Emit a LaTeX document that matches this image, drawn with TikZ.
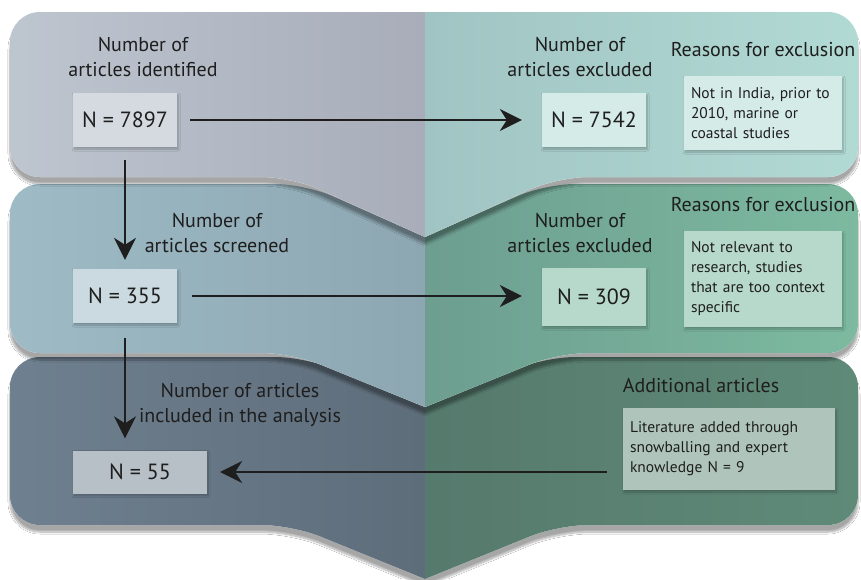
\documentclass[tikz,border=0pt]{standalone}
\usepackage{fontspec}
\setmainfont{PT Sans}
\usetikzlibrary{calc,positioning,arrows.meta,shadows.blur}

\definecolor{ink}{HTML}{1E1E1E}
\definecolor{oneL}{HTML}{BEC6D0}
\definecolor{oneLd}{HTML}{A8ADB9}
\definecolor{oneR}{HTML}{B2DAD4}
\definecolor{oneRd}{HTML}{A0C4C3}
\definecolor{twoL}{HTML}{9EBBC6}
\definecolor{twoLd}{HTML}{8DA7B2}
\definecolor{twoR}{HTML}{7DBAA0}
\definecolor{twoRd}{HTML}{6D9E90}
\definecolor{threeL}{HTML}{6F8090}
\definecolor{threeLd}{HTML}{5E6D7A}
\definecolor{threeR}{HTML}{5F8A78}
\definecolor{threeRd}{HTML}{567A6D}

% outline of one band: top y, top tip y, bottom y, bottom tip y
\newcommand{\bandpath}[4]
	{
	(425,#2) [rounded corners=30pt] -- (305,#1) -- (10,#1) -- (10,#3) -- (292,#3) [sharp corners]
	-- (425,#4) [rounded corners=30pt] -- (558,#3) -- (858,#3) -- (858,#1) -- (545,#1) [sharp corners] -- cycle
	}
\newcommand{\drawband}[6]
	{
	\fill[white,blur shadow={shadow xshift=0pt,shadow yshift=-7pt,shadow blur steps=10,shadow opacity=35}] \bandpath{#1}{#2}{#3}{#4};
	\begin{scope}
	\clip \bandpath{#1}{#2}{#3}{#4};
	\shade[#5] (0,0) rectangle (425,600);
	\shade[#6] (425,0) rectangle (861,600);
	\end{scope}
	}

\tikzset{
	numbox/.style={fill=#1, text=ink, minimum width=104pt, minimum height=54pt, inner sep=0pt,
		font=\fontsize{22}{26}\selectfont,
		blur shadow={shadow xshift=1pt,shadow yshift=-2pt,shadow blur steps=6,shadow opacity=25}},
	reasonbox/.style={fill=#1, text=ink, align=left, inner sep=7pt,
		font=\fontsize{15.5}{20}\selectfont,
		blur shadow={shadow xshift=1pt,shadow yshift=-2pt,shadow blur steps=6,shadow opacity=25}},
	heading/.style={text=ink, align=center, font=\fontsize{20}{25}\selectfont},
	flow/.style={draw=ink, line width=1.3pt, -{Stealth[length=22pt,width=22pt,inset=7pt]}},
}

\begin{document}
\begin{tikzpicture}[x=1pt,y=-1pt]

\useasboundingbox (0,0) rectangle (861,579);
\fill[white] (0,0) rectangle (861,579);

% bands, lowest first
\drawband{357}{407}{525}{579}{left color=threeL,middle color=threeL,right color=threeLd}{left color=threeRd,middle color=threeR,right color=threeR}
\drawband{184}{237}{353}{407}{left color=twoL,middle color=twoL,right color=twoLd}{left color=twoRd,middle color=twoR,right color=twoR}
\drawband{12}{12}{177}{237}{left color=oneL,middle color=oneL,right color=oneLd}{left color=oneRd,middle color=oneR,right color=oneR}

% headings
\node[heading] (hIdent) at (143,57) {Number of\\articles identified};
\node[heading] (hExclA) at (580,57) {Number of\\articles excluded};
\node[heading] (hWhyA) at (763,50) {Reasons for exclusion};
\node[heading] (hScreen) at (217,233) {Number of\\articles screened};
\node[heading] (hExclB) at (580,233) {Number of\\articles excluded};
\node[heading] (hWhyB) at (763,205) {Reasons for exclusion};
\node[heading] (hIncl) at (240,405) {Number of articles\\included in the analysis};
\node[heading] (hAdd) at (701,386) {Additional articles};

% counts
\node[numbox=white!35!oneL] (nIdent) at (125,120) {N = 7897};
\node[numbox=white!45!oneR] (nExclA) at (594,120) {N = 7542};
\node[numbox=white!45!twoL] (nScreen) at (125,296) {N = 355};
\node[numbox=white!45!twoR, minimum height=58pt] (nExclB) at (594,297) {N = 309};
\node[numbox=white!50!threeL, minimum width=134pt, minimum height=43pt] (nIncl) at (140,472) {N = 55};

% reasons
\node[reasonbox=white!45!oneR, text width=144pt, minimum height=74pt] (rA) at (763,113)
	{Not in India, prior to\\2010, marine or\\coastal studies};
\node[reasonbox=white!45!twoR, text width=144pt, minimum height=96pt] (rB) at (763,279)
	{Not relevant to\\research, studies\\that are too context\\specific};
\node[reasonbox=white!50!threeR, text width=198pt, minimum height=82pt] (rAdd) at (729,449)
	{Literature added through\\snowballing and expert\\knowledge N = 9};

% arrows
\draw[flow, shorten <=13pt, shorten >=20pt] (nIdent.east) -- (nExclA.west);
\draw[flow, shorten <=13pt, shorten >=9pt] (nIdent.south) -- (nScreen.north);
\draw[flow, shorten <=15pt, shorten >=20pt] (nScreen.east) -- (nExclB.west |- nScreen.east);
\draw[flow, shorten <=15pt, shorten >=12pt] (nScreen.south) -- (nScreen.south |- nIncl.north);
\draw[flow, shorten <=16pt, shorten >=13pt] (rAdd.west |- nIncl.east) -- (nIncl.east);

\end{tikzpicture}
\end{document}
